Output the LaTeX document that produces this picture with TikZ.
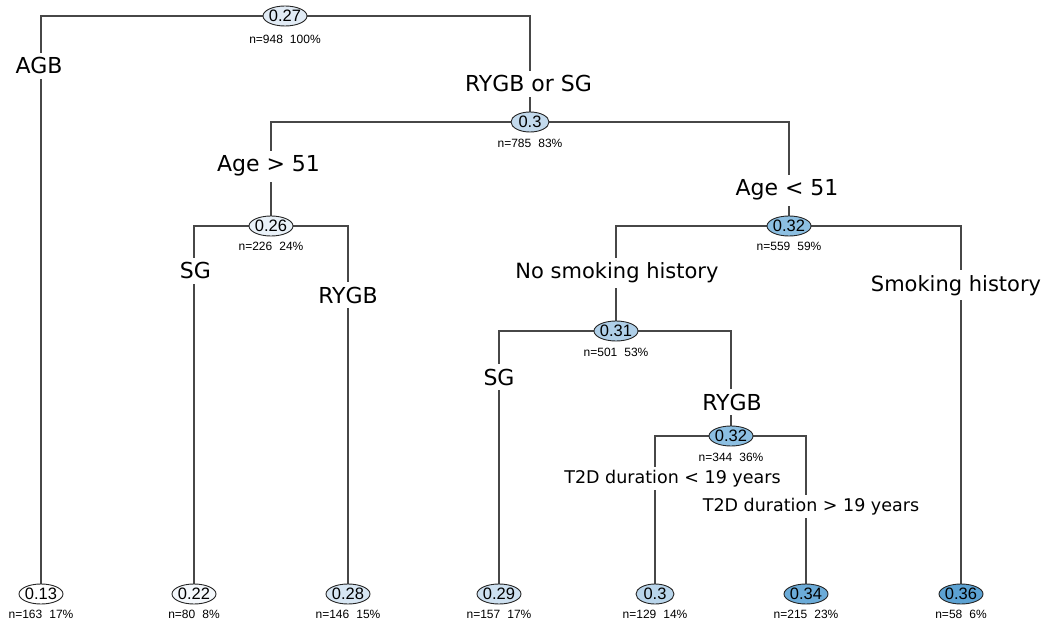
\documentclass[tikz,border=0pt]{standalone}
\usepackage{fontspec}
\setmainfont{Liberation Sans}
\newfontfamily\labfont{DejaVu Sans}
\usetikzlibrary{shapes.geometric}
\pgfdeclarelayer{bg}
\pgfsetlayers{bg,main}
\definecolor{cA}{HTML}{FFFFFF}
\definecolor{cB}{HTML}{F4F8FC}
\definecolor{cC}{HTML}{E9F1F8}
\definecolor{cD}{HTML}{E1EBF5}
\definecolor{cE}{HTML}{D7E6F3}
\definecolor{cF}{HTML}{CDE0F0}
\definecolor{cG}{HTML}{C3DAED}
\definecolor{cH}{HTML}{B9D5EB}
\definecolor{cI}{HTML}{AFCFE8}
\definecolor{cJ}{HTML}{8CBFE2}
\definecolor{cK}{HTML}{6BABD8}
\definecolor{cL}{HTML}{5CA2D3}
\tikzset{
  tn/.style={ellipse, draw=black!85, line width=0.9pt, inner sep=0pt,
    minimum width=44pt, minimum height=20pt, font=\fontsize{16.5}{17}\selectfont},
  tnn/.style={tn, minimum width=38pt},
  nl/.style={font=\fontsize{12}{12}\selectfont, inner sep=0pt},
  lab/.style={fill=white, inner xsep=2pt, inner ysep=5pt, anchor=base,
    font=\labfont\fontsize{22}{26}\selectfont},
  labm/.style={lab, font=\labfont\fontsize{21}{25}\selectfont},
  labs/.style={lab, inner ysep=3pt, font=\labfont\fontsize{17.5}{21}\selectfont},
  edge/.style={draw=black!72, line width=1.1pt}
}
\newcommand{\nv}[1]{\makebox[0pt]{#1}}
\newcommand{\nn}[2]{n=#1\hspace{7pt}#2\%}
\begin{document}
\begin{tikzpicture}[x=1pt,y=-1pt]
\useasboundingbox (0,0) rectangle (1054,628);
% nodes
\node[tn, fill=cD] (root) at (285,16) {\nv{0.27}};
\node[tnn, fill=cG] (n1) at (530,122) {\nv{0.3}};
\node[tn, fill=cC] (n2) at (271,226) {\nv{0.26}};
\node[tn, fill=cJ] (n3) at (789,226) {\nv{0.32}};
\node[tn, fill=cI] (n4) at (616,331) {\nv{0.31}};
\node[tn, fill=cJ] (n5) at (731,436) {\nv{0.32}};
\node[tn, fill=cA] (l1) at (41,594) {\nv{0.13}};
\node[tn, fill=cB] (l2) at (194,594) {\nv{0.22}};
\node[tn, fill=cE] (l3) at (348,594) {\nv{0.28}};
\node[tn, fill=cF] (l4) at (499,594) {\nv{0.29}};
\node[tnn, fill=cH] (l5) at (655,594) {\nv{0.3}};
\node[tn, fill=cK] (l6) at (806,594) {\nv{0.34}};
\node[tn, fill=cL] (l7) at (961,594) {\nv{0.36}};
% n labels
\node[nl] (rootn) at (285,39) {\nn{948}{100}};
\node[nl] (n1n) at (530,143) {\nn{785}{83}};
\node[nl] (n2n) at (271,246) {\nn{226}{24}};
\node[nl] (n3n) at (789,246) {\nn{559}{59}};
\node[nl] (n4n) at (616,352) {\nn{501}{53}};
\node[nl] (n5n) at (731,457) {\nn{344}{36}};
\node[nl] (l1n) at (41,614) {\nn{163}{17}};
\node[nl] (l2n) at (194,614) {\nn{80}{8}};
\node[nl] (l3n) at (348,614) {\nn{146}{15}};
\node[nl] (l4n) at (499,614) {\nn{157}{17}};
\node[nl] (l5n) at (655,614) {\nn{129}{14}};
\node[nl] (l6n) at (806,614) {\nn{215}{23}};
\node[nl] (l7n) at (961,614) {\nn{58}{6}};
% edges
\begin{pgfonlayer}{bg}
\fill[white] (0,0) rectangle (1054,628);
\draw[edge] (root.center) -| (l1.center);
\draw[edge] (root.center) -| (n1.center);
\draw[edge] (n1.center) -| (n2.center);
\draw[edge] (n1.center) -| (n3.center);
\draw[edge] (n2.center) -| (l2.center);
\draw[edge] (n2.center) -| (l3.center);
\draw[edge] (n3.center) -| (n4.center);
\draw[edge] (n3.center) -| (l7.center);
\draw[edge] (n4.center) -| (l4.center);
\draw[edge] (n4.center) -| (n5.center);
\draw[edge] (n5.center) -| (l5.center);
\draw[edge] (n5.center) -| (l6.center);
\end{pgfonlayer}
% split labels
\node[lab] (s1) at (39,74) {AGB};
\node[lab] (s2) at (528.5,92) {RYGB or SG};
\node[lab] (s3) at (268.5,172) {Age > 51};
\node[lab] (s4) at (787,196) {Age < 51};
\node[lab] (s5) at (195.5,279) {SG};
\node[lab] (s6) at (348,303) {RYGB};
\node[labm] (s7) at (617,279) {No smoking history};
\node[labm] (s8) at (956,291) {Smoking history};
\node[lab] (s9) at (499,385) {SG};
\node[lab] (s10) at (732,410) {RYGB};
\node[labs] (s11) at (672.5,483) {T2D duration < 19 years};
\node[labs] (s12) at (811,511) {T2D duration > 19 years};
\end{tikzpicture}
\end{document}
